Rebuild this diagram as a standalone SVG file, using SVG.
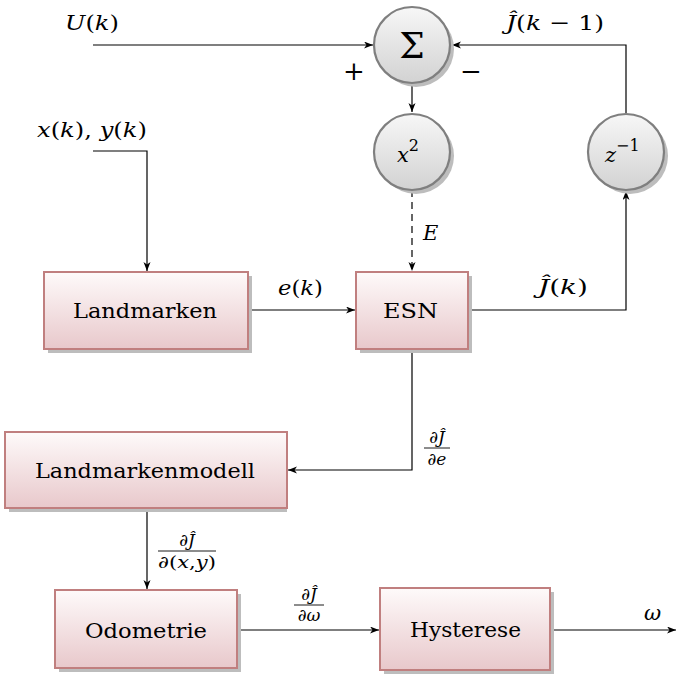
<svg xmlns="http://www.w3.org/2000/svg" width="676" height="675" viewBox="0 0 676 675">
<style>
.box{fill:url(#boxg);stroke:#c07f7f;stroke-width:2}
.bsh{fill:#bdbdbd}
.circ{fill:url(#circg);stroke:#7f7f7f;stroke-width:2.2}
.csh{fill:#bdbdbd}
.lbl{font-family:'DejaVu Serif',serif;font-size:21px;fill:#000}
.m{font-family:'DejaVu Serif',serif;font-size:21px;fill:#000}
.fr{font-family:'DejaVu Serif',serif;font-size:17px;fill:#000}
.i{font-style:italic}
.c{fill:none;stroke:#000;stroke-width:1.2}
.fl{stroke:#000;stroke-width:0.9}
</style>
<defs>
<linearGradient id="boxg" x1="0" y1="0" x2="0" y2="1">
<stop offset="0" stop-color="#fefafa"/>
<stop offset="1" stop-color="#e8c8cb"/>
</linearGradient>
<linearGradient id="circg" x1="0" y1="0" x2="0" y2="1">
<stop offset="0" stop-color="#f7f7f7"/>
<stop offset="1" stop-color="#d2d2d2"/>
</linearGradient>
<marker id="ar" markerUnits="userSpaceOnUse" markerWidth="10" markerHeight="8" refX="9" refY="3.5" orient="auto">
<path d="M0,0 L9,3.5 L0,7 L2.5,3.5 z" fill="#000"/>
</marker>
</defs>

<g id="connectors">
<path class="c" d="M93,45 H373" marker-end="url(#ar)"/>
<path class="c" d="M626,113 V45 H452" marker-end="url(#ar)"/>
<path class="c" d="M412,83 V112" marker-end="url(#ar)"/>
<path class="c" d="M412,190 V271" stroke-dasharray="7 5" marker-end="url(#ar)"/>
<path class="c" d="M93,151 H147 V271" marker-end="url(#ar)"/>
<path class="c" d="M249,310 H355" marker-end="url(#ar)"/>
<path class="c" d="M469,310 H626 V191" marker-end="url(#ar)"/>
<path class="c" d="M412,350 V470 H288" marker-end="url(#ar)"/>
<path class="c" d="M147,509 V589" marker-end="url(#ar)"/>
<path class="c" d="M238,630 H379" marker-end="url(#ar)"/>
<path class="c" d="M551,630 H676" marker-end="url(#ar)"/>
<text class="m" y="30" x="65" textLength="54" lengthAdjust="spacingAndGlyphs"><tspan class="i">U</tspan>(<tspan class="i">k</tspan>)</text>
<text class="m" y="30" x="506" textLength="98" lengthAdjust="spacingAndGlyphs"><tspan class="i">Ĵ</tspan>(<tspan class="i">k</tspan> − 1)</text>
<text class="m" y="137" x="37" textLength="110" lengthAdjust="spacingAndGlyphs"><tspan class="i">x</tspan>(<tspan class="i">k</tspan>), <tspan class="i">y</tspan>(<tspan class="i">k</tspan>)</text>
<text class="m" y="295" x="278" textLength="45" lengthAdjust="spacingAndGlyphs"><tspan class="i">e</tspan>(<tspan class="i">k</tspan>)</text>
<text class="m" y="294" x="538" textLength="50" lengthAdjust="spacingAndGlyphs"><tspan class="i">Ĵ</tspan>(<tspan class="i">k</tspan>)</text>
<text class="m i" y="240" x="423">E</text>
<text y="80" x="354" text-anchor="middle" style="font-family:'DejaVu Serif',serif;font-size:26px">+</text>
<text y="80" x="471" text-anchor="middle" style="font-family:'DejaVu Serif',serif;font-size:26px">−</text>
<text class="m i" y="620" x="644">ω</text>
<text class="fr" x="437" y="443" text-anchor="middle">∂<tspan class="i">Ĵ</tspan></text>
<line class="fl" x1="424" y1="448" x2="450" y2="448"/>
<text class="fr" x="437" y="465" text-anchor="middle">∂<tspan class="i">e</tspan></text>
<text class="fr" x="187" y="546" text-anchor="middle">∂<tspan class="i">Ĵ</tspan></text>
<line class="fl" x1="158" y1="551" x2="216" y2="551"/>
<text class="fr" x="187" y="568" text-anchor="middle" textLength="58" lengthAdjust="spacingAndGlyphs">∂(<tspan class="i">x</tspan>,<tspan class="i">y</tspan>)</text>
<text class="fr" x="309" y="600" text-anchor="middle">∂<tspan class="i">Ĵ</tspan></text>
<line class="fl" x1="294" y1="605" x2="324" y2="605"/>
<text class="fr" x="309" y="621" text-anchor="middle">∂<tspan class="i">ω</tspan></text>
</g>

<g id="sum">
<circle class="csh" cx="416" cy="49" r="38"/>
<circle class="circ" cx="412" cy="45" r="38"/>
<text x="412" y="58" text-anchor="middle" style="font-family:'DejaVu Serif',serif;font-size:36px">Σ</text>
</g>
<g id="square">
<circle class="csh" cx="416" cy="156" r="38"/>
<circle class="circ" cx="412" cy="152" r="38"/>
<text class="m" y="162" x="397" font-size="24"><tspan class="i">x</tspan><tspan font-size="16" dy="-11">2</tspan></text>
</g>
<g id="delay">
<circle class="csh" cx="630" cy="156" r="38"/>
<circle class="circ" cx="626" cy="152" r="38"/>
<text class="m" y="162" x="605" font-size="24"><tspan class="i">z</tspan><tspan font-size="16" dy="-11">−1</tspan></text>
</g>

<g id="landmarken">
<rect class="bsh" x="48" y="276" width="204" height="77"/>
<rect class="box" x="44" y="272" width="204" height="77"/>
<text class="lbl" x="73" y="318" textLength="144" lengthAdjust="spacingAndGlyphs">Landmarken</text>
</g>
<g id="esn">
<rect class="bsh" x="360" y="276" width="112" height="77"/>
<rect class="box" x="356" y="272" width="112" height="77"/>
<text class="lbl" x="383" y="318" textLength="55" lengthAdjust="spacingAndGlyphs">ESN</text>
</g>
<g id="landmarkenmodell">
<rect class="bsh" x="9" y="436" width="278" height="76"/>
<rect class="box" x="5" y="432" width="282" height="76"/>
<text class="lbl" x="35" y="478" textLength="220" lengthAdjust="spacingAndGlyphs">Landmarkenmodell</text>
</g>
<g id="odometrie">
<rect class="bsh" x="59" y="594" width="182" height="78"/>
<rect class="box" x="55" y="590" width="182" height="78"/>
<text class="lbl" x="85" y="638" textLength="122" lengthAdjust="spacingAndGlyphs">Odometrie</text>
</g>
<g id="hysterese">
<rect class="bsh" x="384" y="592" width="170" height="82"/>
<rect class="box" x="380" y="588" width="170" height="82"/>
<text class="lbl" x="410" y="637" textLength="111" lengthAdjust="spacingAndGlyphs">Hysterese</text>
</g>
</svg>
